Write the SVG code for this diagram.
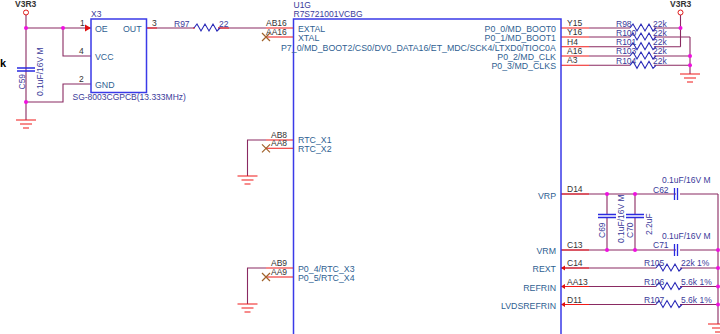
<svg xmlns="http://www.w3.org/2000/svg" width="720" height="334" viewBox="0 0 720 334">
<defs>
<g id="gnd"><path d="M-10 0H10M-6 4H6M-3 8H3" fill="none" stroke="#f01818" stroke-width="1.2"/></g>
<g id="nc"><path d="M-4 -4L4 4M-4 4L4 -4" fill="none" stroke="#a0622a" stroke-width="1.2"/></g>
<path id="res" d="M0 0l3 -4l4 7l4 -7l4 7l4 -7l4 7l3 -3" fill="none" stroke="#2a2ab8" stroke-width="1.1"/>
<path id="capv" d="M-1.500 -6V6M1.500 -6V6" fill="none" stroke="#2a2ae0" stroke-width="1.3"/>
<path id="caph" d="M-9 -1.500H9M-9 1.500H9" fill="none" stroke="#2a2ae0" stroke-width="1.3"/>
</defs>
<style>
text{font-family:"Liberation Sans",Arial,sans-serif;font-size:8.500px}
.w{fill:none;stroke:#8a2a62;stroke-width:1.100}
.p{fill:none;stroke:#f01818;stroke-width:1.100}
.b{fill:none;stroke:#3a3ae8;stroke-width:1.500}
.j{fill:#f010e0}
.n{fill:#2f5f92;font-size:8.800px}
.r{fill:#3a3a9a}
.d{fill:#333}
.k{font-weight:bold;fill:#333}
.a{fill:#e01010}
</style>
<g id="connectors">
<path class="w" d="M26 13V120M26 28H91M63 28V56H91M26 102H63V84H91M146 28H194M218 28H266"/>
<path class="w" d="M589 28H630M654 28H680.500M589 37H630M654 37H690M589 46.700H630M654 46.700H680.500M589 56H630M654 56H690M589 65.300H630M654 65.300H690M680.500 13V46.700M690 37V74"/>
<path class="w" d="M561 194H676M680 194H718M561 250H676M680 250H718M718 194V324M607 194V214M607 218V250M635 194V214M635 218V250M561 268H656M680 268H718M561 286.500H656M680 286.500H718M561 304.500H656M680 304.500H718"/>
<path class="w" d="M266 140H247.500V176M266 268H247.500V304"/>
<path class="p" d="M146.500 28H157M193 28H195M218 28H229M266 28H293M266 37H293M266 140H293M266 148.300H293M266 268H293M266 277H293"/>
<path class="p" d="M561 28H589M561 37H589M561 46.700H589M561 56H589M561 65.300H589M561 194H589M561 250H589M561 268H589M561 286.500H589M561 304.500H589"/>
<path class="a" d="M85 24.500L91 28L85 31.500Z"/>
<path class="a" d="M561 268L565 265.500V270.500Z M561 286.500L565 284V289Z M561 304.500L565 302V307Z"/>
<circle class="j" cx="26" cy="28" r="2"/><circle class="j" cx="63" cy="28" r="2"/><circle class="j" cx="26" cy="102" r="2"/>
<circle class="j" cx="680.500" cy="28" r="2"/><circle class="j" cx="690" cy="56" r="2"/><circle class="j" cx="690" cy="65.300" r="2"/>
<circle class="j" cx="607" cy="194" r="2"/><circle class="j" cx="635" cy="194" r="2"/><circle class="j" cx="607" cy="250" r="2"/><circle class="j" cx="635" cy="250" r="2"/>
<circle class="j" cx="718" cy="250" r="2"/><circle class="j" cx="718" cy="268" r="2"/><circle class="j" cx="718" cy="286.500" r="2"/><circle class="j" cx="718" cy="304.500" r="2"/>
<use href="#nc" x="266" y="37"/><use href="#nc" x="266" y="148.300"/><use href="#nc" x="266" y="277"/>
<use href="#gnd" x="26" y="120"/><use href="#gnd" x="247.500" y="176"/><use href="#gnd" x="247.500" y="304"/><use href="#gnd" x="690" y="74"/><use href="#gnd" x="718" y="324"/>
<circle cx="26" cy="12.500" r="2.500" fill="#fff" stroke="#e01818"/><circle cx="680.500" cy="12.500" r="2.500" fill="#fff" stroke="#e01818"/>
</g>
<g id="X3">
<rect class="b" x="91" y="19" width="55.500" height="73.500"/>
<text class="k" x="15" y="7">V3R3</text>
<text x="0" y="67" style="font-size:11px;font-weight:bold;fill:#000">k</text>
<text class="r" x="91" y="17">X3</text>
<text class="n" x="95" y="32">OE</text><text class="n" x="123" y="32">OUT</text>
<text class="n" x="95" y="60">VCC</text><text class="n" x="95" y="88">GND</text>
<text class="d" x="80" y="26">1</text><text class="d" x="79" y="54">4</text><text class="d" x="79" y="82">2</text><text class="d" x="152" y="26">3</text>
<text class="r" x="72.500" y="100">SG-8003CGPCB(13.333MHz)</text>
</g>
<g id="C59">
<use href="#caph" x="26" y="69.500"/>
<text class="r" transform="translate(24.500 89.500) rotate(-90)">C59</text>
<text class="r" transform="translate(42.500 96) rotate(-90)">0.1uF/16V M</text>
</g>
<g id="R97">
<use href="#res" x="194" y="28"/>
<text class="r" x="174" y="26.500">R97</text><text class="r" x="219" y="26.500">22</text>
</g>
<g id="U1G">
<path class="b" d="M293.500 334V19H561V334"/>
<text class="r" x="293.500" y="8">U1G</text><text class="r" x="293.500" y="17">R7S721001VCBG</text>
<text class="n" x="298" y="32">EXTAL</text><text class="n" x="298" y="41">XTAL</text>
<text class="n" x="281" y="50.500">P7_0/MD_BOOT2/CS0/DV0_DATA16/ET_MDC/SCK4/LTXD0/TIOC0A</text>
<text class="n" x="298" y="143">RTC_X1</text><text class="n" x="298" y="152">RTC_X2</text>
<text class="n" x="298" y="272">P0_4/RTC_X3</text><text class="n" x="298" y="281">P0_5/RTC_X4</text>
<g text-anchor="end">
<text class="n" x="556" y="32">P0_0/MD_BOOT0</text><text class="n" x="556" y="41">P0_1/MD_BOOT1</text>
<text class="n" x="556" y="59.500">P0_2/MD_CLK</text><text class="n" x="556" y="69">P0_3/MD_CLKS</text>
<text class="n" x="556" y="199">VRP</text><text class="n" x="556" y="254">VRM</text>
<text class="n" x="556" y="272">REXT</text><text class="n" x="556" y="291">REFRIN</text><text class="n" x="556" y="309">LVDSREFRIN</text>
</g>
<text class="d" x="266" y="26">AB16</text><text class="d" x="266" y="35">AA16</text>
<text class="d" x="271" y="137.500">AB8</text><text class="d" x="271" y="146">AA8</text>
<text class="d" x="271" y="266">AB9</text><text class="d" x="271" y="275">AA9</text>
<text class="d" x="567" y="26">Y15</text><text class="d" x="567" y="35">Y16</text><text class="d" x="567" y="44.500">H4</text><text class="d" x="567" y="53.500">A16</text><text class="d" x="567" y="63">A3</text>
<text class="d" x="567" y="192">D14</text><text class="d" x="567" y="248">C13</text><text class="d" x="567" y="266">C14</text><text class="d" x="567" y="284.500">AA13</text><text class="d" x="567" y="303">D11</text>
</g>
<g id="R98"><use href="#res" x="630" y="28"/><text class="r" x="616" y="26.500">R98</text><text class="r" x="653" y="26.500">22k</text></g>
<g id="R100"><use href="#res" x="630" y="37"/><text class="r" x="616" y="36">R100</text><text class="r" x="653" y="36">22k</text></g>
<g id="R101"><use href="#res" x="630" y="46.700"/><text class="r" x="616" y="45">R101</text><text class="r" x="653" y="45">22k</text></g>
<g id="R103"><use href="#res" x="630" y="56"/><text class="r" x="616" y="54">R103</text><text class="r" x="653" y="54">22k</text></g>
<g id="R104"><use href="#res" x="630" y="65.300"/><text class="r" x="616" y="63.500">R104</text><text class="r" x="653" y="63.500">22k</text></g>
<text class="k" x="670" y="7">V3R3</text>
<g id="C62"><use href="#capv" x="676" y="194"/><text class="r" x="653" y="193">C62</text><text class="r" x="662" y="183">0.1uF/16V M</text></g>
<g id="C71"><use href="#capv" x="676" y="250"/><text class="r" x="653" y="248">C71</text><text class="r" x="662" y="239">0.1uF/16V M</text></g>
<g id="C69"><use href="#caph" x="607" y="216"/><text class="r" transform="translate(605 238) rotate(-90)">C69</text><text class="r" transform="translate(624 243) rotate(-90)">0.1uF/16V M</text></g>
<g id="C70"><use href="#caph" x="635" y="216"/><text class="r" transform="translate(633 238) rotate(-90)">C70</text><text class="r" transform="translate(652 235) rotate(-90)">2.2uF</text></g>
<g id="R105"><use href="#res" x="656" y="268"/><text class="r" x="644" y="266">R105</text><text class="r" x="681" y="266">22k 1%</text></g>
<g id="R106"><use href="#res" x="656" y="286.500"/><text class="r" x="644" y="285">R106</text><text class="r" x="681" y="285">5.6k 1%</text></g>
<g id="R107"><use href="#res" x="656" y="304.500"/><text class="r" x="644" y="303">R107</text><text class="r" x="681" y="303">5.6k 1%</text></g>
</svg>
